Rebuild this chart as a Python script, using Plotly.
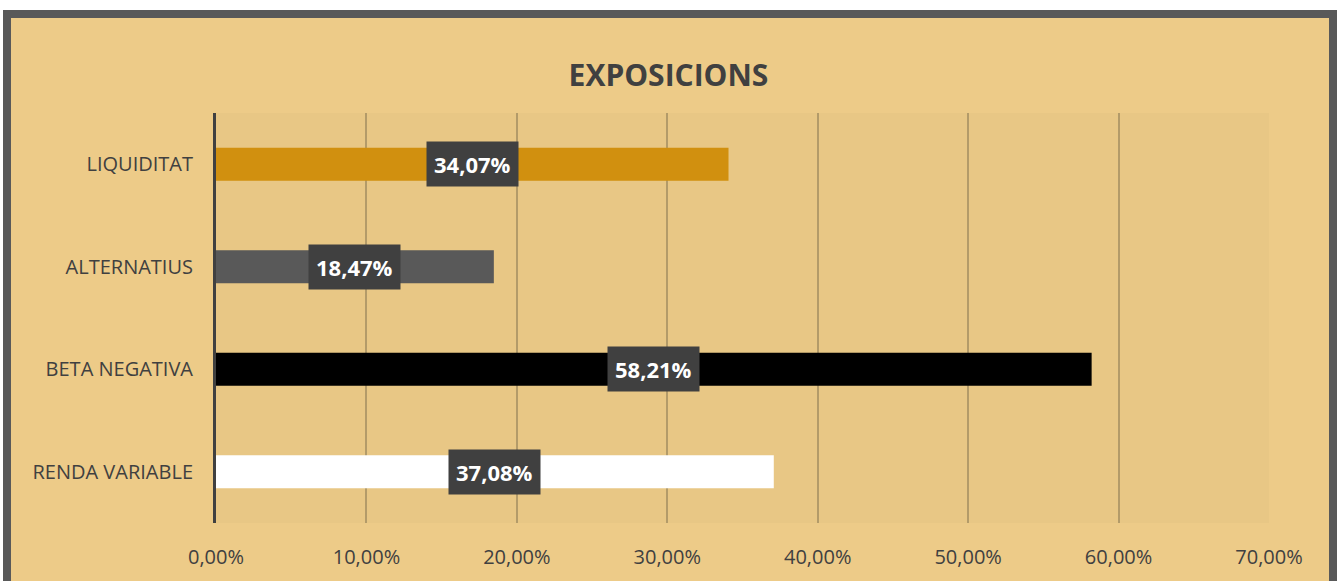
import plotly.graph_objects as go

categories = ["RENDA VARIABLE", "BETA NEGATIVA", "ALTERNATIUS", "LIQUIDITAT"]
values = [0.3708, 0.5821, 0.1847, 0.3407]
labels = ["37,08%", "58,21%", "18,47%", "34,07%"]
colors = ["#FFFFFF", "#000000", "#595959", "#D1900F"]
x_ticks = [0, 0.1, 0.2, 0.3, 0.4, 0.5, 0.6, 0.7]

W, H = 1337, 581
L, R, T, B = 216, 68, 113, 58
pw = W - L - R
ph = H - T - B

def px_to_paper_x(px):
    return (px - L) / pw

def px_to_paper_y(py):
    return (H - B - py) / ph

fig = go.Figure()
fig.add_trace(go.Bar(
    y=categories, x=values, orientation="h",
    marker=dict(color=colors, line=dict(width=0)),
    width=0.32, hoverinfo="skip", showlegend=False,
))

for c, v, t in zip(categories, values, labels):
    fig.add_annotation(
        x=v / 2, y=c, text="<b>" + t + "</b>", showarrow=False,
        font=dict(family="Open Sans", size=22, color="#FFFFFF"),
        bgcolor="#404040", borderpad=7, xanchor="center", yanchor="middle",
    )

# outer frame
fig.add_shape(type="rect", xref="paper", yref="paper",
              x0=px_to_paper_x(7), x1=px_to_paper_x(1333),
              y0=px_to_paper_y(600), y1=px_to_paper_y(14),
              line=dict(color="#595959", width=8), fillcolor="#EDCB88",
              layer="below")
# slightly shaded plot area
fig.add_shape(type="rect", xref="paper", yref="paper",
              x0=0, x1=1, y0=0, y1=1,
              line=dict(width=0), fillcolor="#E8C785", layer="below")

fig.update_layout(
    width=W, height=H,
    margin=dict(l=L, r=R, t=T, b=B),
    paper_bgcolor="#FFFFFF",
    plot_bgcolor="rgba(0,0,0,0)",
    separators=", ",
    title=dict(text="<b>EXPOSICIONS</b>", x=0.5, xref="container", xanchor="center",
               y=1 - 75 / H, yanchor="middle",
               font=dict(family="Open Sans", size=30, color="#404040")),
    xaxis=dict(range=[0, 0.7], tickvals=x_ticks, tickformat=".2%",
               showgrid=True, gridcolor="#B39B69", gridwidth=1.5,
               zeroline=False, showline=False, ticks="",
               ticklabelstandoff=20,
               tickfont=dict(family="Open Sans", size=20, color="#404040")),
    yaxis=dict(categoryorder="array", categoryarray=categories,
               showline=True, linecolor="#404040", linewidth=3,
               showgrid=False, ticks="", ticklabelstandoff=16,
               tickfont=dict(family="Open Sans", size=20, color="#404040")),
    bargap=0.68,
)

fig.write_html("out.html")
